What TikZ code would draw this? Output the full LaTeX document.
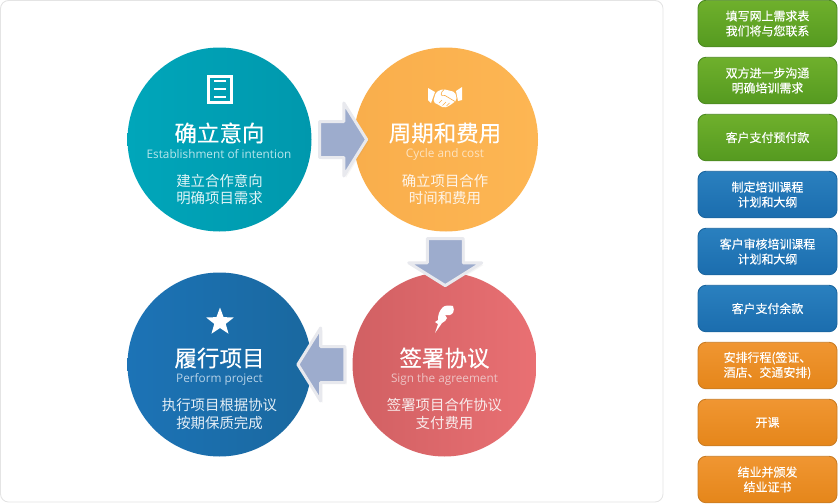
\documentclass[tikz,border=0pt]{standalone}
\usepackage{fontspec}
\setmainfont{Noto Sans CJK SC}
\newfontfamily\latinfont{Open Sans}
\newfontfamily\heavyfont{Noto Sans CJK SC}[FakeBold=.25]
\usetikzlibrary{arrows.meta,calc,positioning,shapes.arrows,shapes.geometric,shadows}
\definecolor{panelline}{HTML}{E4E4E4}
\definecolor{arrowfill}{HTML}{9DACCD}
\definecolor{arrowline}{HTML}{E8E9EE}
\definecolor{tealL}{HTML}{00A6BA}
\definecolor{tealR}{HTML}{0098AD}
\definecolor{sunL}{HTML}{F9AE4C}
\definecolor{sunR}{HTML}{FDB653}
\definecolor{roseL}{HTML}{D16063}
\definecolor{roseR}{HTML}{E97073}
\definecolor{navyL}{HTML}{1C73B6}
\definecolor{navyR}{HTML}{1A689F}
\definecolor{grassT}{HTML}{6FB02C}
\definecolor{grassB}{HTML}{559A20}
\definecolor{grassD}{HTML}{4C8A22}
\definecolor{oceanT}{HTML}{2A80BF}
\definecolor{oceanB}{HTML}{1B6DAE}
\definecolor{oceanD}{HTML}{1A659F}
\definecolor{amberT}{HTML}{F09632}
\definecolor{amberB}{HTML}{E5861A}
\definecolor{amberD}{HTML}{C97C24}

\begin{document}
\begin{tikzpicture}[
  stage/.style={
    circle,
    minimum size=3.68cm,
    inner sep=0pt
  },
  flowarrow/.style={
    shape=single arrow,
    draw=arrowline,
    fill=arrowfill,
    line width=1.7pt,
    line join=round,
    inner xsep=0pt,
    inner ysep=.33cm,
    single arrow head extend=.37cm,
    single arrow tip angle=116,
    minimum height=.94cm,
    drop shadow={opacity=.07,shadow xshift=.04cm,shadow yshift=-.04cm}
  },
  stagetitle/.style={text=white,font=\heavyfont\fontsize{12.8}{15}\selectfont},
  stagesub/.style={font=\latinfont\fontsize{6.7}{8}\selectfont},
  stagetext/.style={align=center,font=\fontsize{8.2}{9.9}\selectfont},
  stepbox/.style={
    rounded corners=1.6mm,
    minimum width=2.78cm,
    minimum height=.93cm,
    inner sep=0pt,
    align=center,
    text=white,
    line width=.5pt,
    font=\heavyfont\fontsize{6.8}{8.5}\selectfont
  },
  greenbox/.style={stepbox,draw=grassD,top color=grassT,bottom color=grassB},
  bluebox/.style={stepbox,draw=oceanD,top color=oceanT,bottom color=oceanB},
  orangebox/.style={stepbox,draw=amberD,top color=amberT,bottom color=amberB}
]
\useasboundingbox (0,0) rectangle (16.76,10.06);

\draw[panelline,fill=white,rounded corners=1.6mm,line width=.5pt]
  (.01,.02) rectangle (13.26,10.05);

\node[stage,left color=tealL,right color=tealR] (intent) at (4.39,7.27) {};
\node[stage,left color=sunL,right color=sunR] (cycle) at (8.92,7.27) {};
\node[stage,left color=roseL,right color=roseR] (sign) at (8.89,2.77) {};
\node[stage,left color=navyL,right color=navyR] (perform) at (4.39,2.77) {};

% block arrows between the stages
\node[flowarrow] (arrowa) at ($(intent)!.5!(cycle)+(.095,0)$) {};
\node[flowarrow,rotate=-90] (arrowb) at ($(cycle)!.5!(sign)+(0,-.09)$) {};
\node[flowarrow,rotate=180] (arrowc) at ($(sign)!.5!(perform)+(-.10,0)$) {};

% document icon
\draw[white,line width=1.7pt] (4.17,8.01) rectangle (4.63,8.53);
\draw[white,line width=.9pt]
  (4.28,8.44) -- (4.52,8.44)
  (4.28,8.28) -- (4.52,8.28)
  (4.28,8.12) -- (4.52,8.12);

% handshake icon
\fill[white] (8.56,8.30) -- (8.70,8.22) -- (8.62,8.00) -- (8.56,8.06) -- cycle;
\fill[white] (9.24,8.32) -- (9.24,8.06) -- (9.16,8.04) -- (9.12,8.24) -- cycle;
\fill[white,rounded corners=.4mm] (8.72,8.22) -- (8.86,8.28) -- (8.94,8.26)
  -- (9.10,8.22) -- (9.14,8.06) -- (8.98,7.94) -- (8.88,7.90) -- (8.74,7.98)
  -- (8.66,8.02) -- cycle;
\draw[sunL,line width=.35pt] (8.88,8.27) .. controls (8.80,8.20) and (8.80,8.12) .. (8.90,8.15)
  -- (9.10,8.03);
\draw[sunL,line width=.3pt] (8.78,8.00) -- (8.84,8.06) (8.85,7.95) -- (8.92,8.02)
  (8.93,7.94) -- (8.99,8.00);

% feather icon
\fill[white] (9.06,3.94) .. controls (8.98,3.96) and (8.90,3.95) .. (8.86,3.92)
  .. controls (8.78,3.84) and (8.76,3.76) .. (8.76,3.66)
  -- (8.70,3.62) -- (8.76,3.58) -- (8.70,3.40) -- (8.84,3.60)
  .. controls (8.90,3.62) and (8.92,3.66) .. (8.94,3.70)
  -- (8.90,3.76) -- (9.00,3.76)
  .. controls (9.06,3.78) and (9.10,3.84) .. (9.06,3.94) -- cycle;

\node[star,star points=5,star point ratio=2.4,fill=white,minimum size=.58cm,inner sep=0pt]
  (staricon) at (4.40,3.62) {};

\node[stagetitle] (intenttitle) at (4.39,7.40) {确立意向};
\node[stagesub,text=white!72!tealL] (intentsub) at (4.38,6.98) {Establishment of intention};
\node[stagetext,text=white!88!tealL] (intenttext) at (4.39,6.27) {建立合作意向\\明确项目需求};

\node[stagetitle] (cycletitle) at (8.90,7.40) {周期和费用};
\node[stagesub,text=white!65!sunL] (cyclesub) at (8.90,6.98) {Cycle and cost};
\node[stagetext,text=white!88!sunL] (cycletext) at (8.90,6.27) {确立项目合作\\时间和费用};

\node[stagetitle] (signtitle) at (8.89,2.90) {签署协议};
\node[stagesub,text=white!62!roseL] (signsub) at (8.89,2.48) {Sign the agreement};
\node[stagetext,text=white!88!roseL] (signtext) at (8.89,1.78) {签署项目合作协议\\支付费用};

\node[stagetitle] (performtitle) at (4.39,2.90) {履行项目};
\node[stagesub,text=white!68!navyL] (performsub) at (4.39,2.48) {Perform project};
\node[stagetext,text=white!88!navyL] (performtext) at (4.39,1.78) {执行项目根据协议\\按期保质完成};

\node[greenbox] (boxa) at (15.35,9.59) {填写网上需求表\\我们将与您联系};
\node[greenbox] (boxb) at (15.35,8.45) {双方进一步沟通\\明确培训需求};
\node[greenbox] (boxc) at (15.35,7.31) {客户支付预付款};
\node[bluebox] (boxd) at (15.35,6.17) {制定培训课程\\计划和大纲};
\node[bluebox] (boxe) at (15.35,5.03) {客户审核培训课程\\计划和大纲};
\node[bluebox] (boxf) at (15.35,3.89) {客户支付余款};
\node[orangebox] (boxg) at (15.35,2.75) {安排行程(签证、\\酒店、交通安排)};
\node[orangebox] (boxh) at (15.35,1.61) {开课};
\node[orangebox] (boxi) at (15.35,.47) {结业并颁发\\结业证书};

\end{tikzpicture}
\end{document}
